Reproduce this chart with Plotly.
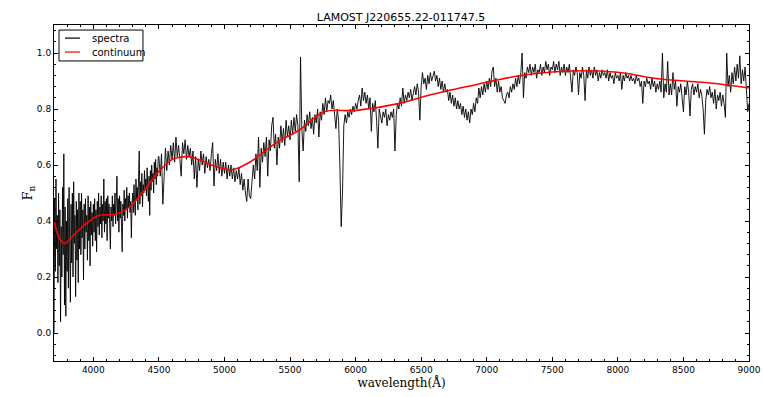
import numpy as np
import plotly.graph_objects as go

# blue end of the spectrum, 5 A steps from 3700 to 4495 (one row per 100 A)
flux_blue = [
    0.00, 0.48, 0.22, 0.55, 0.30, 0.42, 0.18, 0.50, 0.24, 0.44, 0.04, 0.38, 0.20, 0.52, 0.28, 0.64, 0.10, 0.45, 0.06, 0.40,
    0.22, 0.48, 0.16, 0.52, 0.30, 0.11, 0.46, 0.25, 0.50, 0.20, 0.54, 0.32, 0.42, 0.13, 0.47, 0.26, 0.44, 0.18, 0.50, 0.30,
    0.47, 0.28, 0.50, 0.34, 0.44, 0.19, 0.46, 0.30, 0.48, 0.36, 0.42, 0.26, 0.49, 0.33, 0.45, 0.24, 0.47, 0.35, 0.43, 0.31,
    0.46, 0.36, 0.48, 0.33, 0.44, 0.29, 0.47, 0.38, 0.50, 0.35, 0.45, 0.39, 0.49, 0.34, 0.46, 0.40, 0.55, 0.36, 0.47, 0.39,
    0.48, 0.33, 0.49, 0.41, 0.46, 0.37, 0.30, 0.45, 0.40, 0.49, 0.38, 0.46, 0.42, 0.50, 0.39, 0.47, 0.56, 0.40, 0.48, 0.36,
    0.49, 0.41, 0.47, 0.38, 0.29, 0.46, 0.42, 0.51, 0.40, 0.48, 0.44, 0.52, 0.41, 0.49, 0.45, 0.50, 0.43, 0.47, 0.34, 0.46,
    0.50, 0.43, 0.53, 0.46, 0.42, 0.55, 0.48, 0.52, 0.44, 0.56, 0.65, 0.46, 0.54, 0.49, 0.57, 0.45, 0.53, 0.50, 0.58, 0.51,
    0.55, 0.49, 0.59, 0.52, 0.47, 0.56, 0.42, 0.58, 0.51, 0.60, 0.54, 0.57, 0.50, 0.61, 0.55, 0.62, 0.53, 0.59, 0.56, 0.63,
]

# rest of the spectrum, 10 A steps from 4500 to 9000 (one row per 100 A)
flux_red = [
    0.63, 0.56, 0.64, 0.46, 0.60, 0.66, 0.58, 0.65, 0.60, 0.67,   # 4500
    0.62, 0.68, 0.61, 0.70, 0.63, 0.67, 0.62, 0.56, 0.68, 0.64,   # 4600
    0.69, 0.62, 0.67, 0.63, 0.66, 0.60, 0.65, 0.55, 0.63, 0.52,   # 4700
    0.62, 0.58, 0.65, 0.60, 0.64, 0.57, 0.63, 0.59, 0.62, 0.58,   # 4800
    0.64, 0.68, 0.525, 0.62, 0.58, 0.64, 0.57, 0.62, 0.56, 0.61,  # 4900
    0.57, 0.61, 0.55, 0.60, 0.56, 0.60, 0.55, 0.59, 0.54, 0.58,   # 5000
    0.55, 0.59, 0.53, 0.57, 0.51, 0.55, 0.50, 0.47, 0.55, 0.49,   # 5100
    0.48, 0.56, 0.60, 0.55, 0.64, 0.58, 0.70, 0.52, 0.66, 0.61,   # 5200
    0.68, 0.63, 0.70, 0.56, 0.69, 0.65, 0.74, 0.77, 0.66, 0.71,   # 5300
    0.60, 0.70, 0.66, 0.74, 0.68, 0.73, 0.67, 0.76, 0.70, 0.74,   # 5400
    0.69, 0.76, 0.71, 0.77, 0.72, 0.78, 0.74, 0.54, 0.986, 0.73,  # 5500
    0.65, 0.76, 0.72, 0.78, 0.74, 0.79, 0.73, 0.77, 0.71, 0.78,   # 5600
    0.75, 0.80, 0.70, 0.79, 0.76, 0.82, 0.78, 0.84, 0.79, 0.83,   # 5700
    0.82, 0.85, 0.80, 0.83, 0.78, 0.73, 0.80, 0.76, 0.60, 0.38,   # 5800
    0.50, 0.74, 0.78, 0.75, 0.79, 0.77, 0.80, 0.78, 0.81, 0.79,   # 5900
    0.82, 0.80, 0.83, 0.85, 0.81, 0.875, 0.83, 0.86, 0.82, 0.85,  # 6000
    0.80, 0.84, 0.72, 0.82, 0.79, 0.83, 0.76, 0.66, 0.80, 0.77,   # 6100
    0.75, 0.79, 0.77, 0.80, 0.74, 0.78, 0.76, 0.79, 0.77, 0.80,   # 6200
    0.65, 0.78, 0.82, 0.80, 0.84, 0.81, 0.875, 0.82, 0.85, 0.83,  # 6300
    0.86, 0.84, 0.87, 0.83, 0.86, 0.88, 0.85, 0.89, 0.86, 0.76,   # 6400
    0.88, 0.93, 0.89, 0.91, 0.87, 0.92, 0.89, 0.93, 0.90, 0.92,   # 6500
    0.935, 0.90, 0.92, 0.88, 0.91, 0.87, 0.90, 0.86, 0.89, 0.86,  # 6600
    0.87, 0.83, 0.86, 0.82, 0.85, 0.81, 0.84, 0.80, 0.83, 0.80,   # 6700
    0.82, 0.78, 0.81, 0.77, 0.80, 0.76, 0.79, 0.75, 0.80, 0.78,   # 6800
    0.82, 0.79, 0.84, 0.82, 0.875, 0.84, 0.88, 0.85, 0.89, 0.86,  # 6900
    0.90, 0.87, 0.91, 0.88, 0.935, 0.95, 0.88, 0.91, 0.86, 0.90,  # 7000
    0.86, 0.88, 0.84, 0.83, 0.82, 0.85, 0.86, 0.84, 0.88, 0.86,   # 7100
    0.89, 0.87, 0.91, 0.88, 0.92, 0.89, 0.93, 1.00, 0.84, 0.93,   # 7200
    0.91, 0.95, 0.93, 0.96, 0.92, 0.95, 0.93, 0.96, 0.91, 0.94,   # 7300
    0.93, 0.96, 0.92, 0.95, 0.93, 0.97, 0.94, 0.96, 0.92, 0.95,   # 7400
    0.94, 0.97, 0.93, 0.96, 0.94, 0.97, 0.92, 0.95, 0.93, 0.96,   # 7500
    0.92, 0.95, 0.93, 0.96, 0.90, 0.86, 0.94, 0.92, 0.95, 0.93,   # 7600
    0.85, 0.93, 0.91, 0.95, 0.92, 0.83, 0.94, 0.91, 0.95, 0.92,   # 7700
    0.94, 0.91, 0.95, 0.92, 0.94, 0.90, 0.93, 0.91, 0.94, 0.92,   # 7800
    0.93, 0.91, 0.94, 0.90, 0.93, 0.91, 0.92, 0.89, 0.93, 0.91,   # 7900
    0.92, 0.90, 0.93, 0.87, 0.92, 0.90, 0.93, 0.91, 0.92, 0.90,   # 8000
    0.92, 0.90, 0.91, 0.89, 0.92, 0.90, 0.91, 0.88, 0.90, 0.82,   # 8100
    0.90, 0.88, 0.91, 0.89, 0.90, 0.87, 0.91, 0.88, 0.90, 0.86,   # 8200
    0.89, 0.87, 0.90, 0.86, 1.00, 0.84, 0.89, 0.86, 0.97, 0.85,   # 8300
    0.89, 0.85, 0.93, 0.87, 0.90, 0.81, 0.88, 0.86, 0.89, 0.84,   # 8400
    0.79, 0.88, 0.85, 0.90, 0.86, 0.775, 0.87, 0.89, 0.85, 0.88,  # 8500
    0.86, 0.89, 0.84, 0.87, 0.85, 0.80, 0.71, 0.83, 0.87, 0.85,   # 8600
    0.88, 0.84, 0.86, 0.82, 0.87, 0.80, 0.85, 0.83, 0.86, 0.81,   # 8700
    0.85, 0.82, 0.77, 1.00, 0.88, 0.92, 0.86, 0.93, 0.89, 0.95,   # 8800
    0.90, 0.96, 0.91, 0.99, 0.89, 0.94, 0.90, 0.95, 0.86, 0.79,   # 8900
    0.82,                                                         # 9000
]

# fitted continuum, read at a few wavelengths
cont_wave = [3700, 3740, 3780, 3830, 3918, 4032, 4177, 4276, 4405, 4505,
             4604, 4695, 4772, 4900, 5054, 5191, 5397, 5572, 5763, 6007,
             6336, 6565, 6908, 7237, 7580, 7977, 8320, 8701, 9000]
cont_flux = [0.40, 0.34, 0.32, 0.34, 0.38, 0.418, 0.425, 0.45, 0.52, 0.58,
             0.62, 0.63, 0.625, 0.60, 0.583, 0.61, 0.68, 0.725, 0.79, 0.795,
             0.82, 0.85, 0.886, 0.918, 0.935, 0.932, 0.907, 0.893, 0.875]

series_names = ["spectra", "continuum"]
series_colors = ["black", "red"]

wave = np.concatenate([3700 + 5 * np.arange(len(flux_blue)),
                       4500 + 10 * np.arange(len(flux_red))])
flux = flux_blue + flux_red

fig = go.Figure()
fig.add_trace(go.Scatter(x=wave, y=flux, mode="lines", name=series_names[0],
                         line=dict(color=series_colors[0], width=0.9), showlegend=False))
fig.add_trace(go.Scatter(x=cont_wave, y=cont_flux, mode="lines", name=series_names[1],
                         line=dict(color=series_colors[1], width=1.6, shape="spline"),
                         showlegend=False))

# matplotlib-like legend box in the upper left corner (paper coordinates)
fig.add_shape(type="rect", xref="paper", yref="paper", x0=0.0072, x1=0.128,
              y0=0.893, y1=0.985, line=dict(color="black", width=1), fillcolor="white")
for i, (name, color) in enumerate(zip(series_names, series_colors)):
    ly = 0.961 - i * 0.0415
    fig.add_shape(type="line", xref="paper", yref="paper", x0=0.0158, x1=0.0374,
                  y0=ly, y1=ly, line=dict(color=color, width=1.2))
    fig.add_annotation(text=name, xref="paper", yref="paper", x=0.0518, y=ly,
                       xanchor="left", yanchor="middle", showarrow=False,
                       font=dict(family="DejaVu Sans", size=10, color="black"))

axis_style = dict(
    showline=True, linecolor="black", linewidth=1, mirror="allticks",
    ticks="inside", ticklen=4, tickcolor="black", showgrid=False, zeroline=False,
    tickfont=dict(family="DejaVu Sans", size=9, color="black"),
)

fig.update_layout(
    width=763, height=397,
    margin=dict(l=54, r=14, t=25, b=36),
    paper_bgcolor="white", plot_bgcolor="white",
    title=dict(text="LAMOST J220655.22-011747.5", x=0.5256, xanchor="center",
               y=0.957, yanchor="middle",
               font=dict(family="DejaVu Sans", size=11, color="black")),
)
fig.update_xaxes(range=[3700, 9000], dtick=500, tick0=4000,
                 minor=dict(ticks="inside", dtick=100, ticklen=2, tickcolor="black"),
                 title=dict(text="wavelength(Å)", standoff=4,
                            font=dict(family="DejaVu Serif", size=12, color="black")),
                 automargin=False, **axis_style)
fig.update_yaxes(range=[-0.1, 1.1], dtick=0.2, tick0=0, tickformat=".1f",
                 minor=dict(ticks="inside", dtick=0.04, ticklen=2, tickcolor="black"),
                 title=dict(text="F<sub>n</sub>", standoff=1,
                            font=dict(family="DejaVu Serif", size=13, color="black")),
                 automargin=False, **axis_style)

# drop the default page margin so the figure fills the window exactly
fig.write_html("out.html", config={"displayModeBar": False},
               post_script="document.body.style.margin='0';document.body.style.overflow='hidden';")
